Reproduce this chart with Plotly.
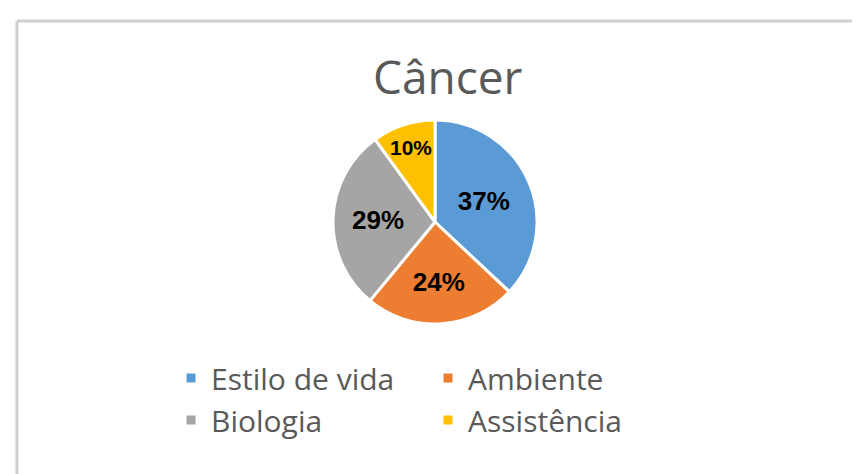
import plotly.graph_objects as go

categories = ["Estilo de vida", "Ambiente", "Biologia", "Assistência"]
values = [37, 24, 29, 10]
colors = ["#5B9BD5", "#ED7D31", "#A5A5A5", "#FFC000"]
title_text = "Câncer"

W, H = 860, 474
ML, MR = 150, 110
PW = W - ML - MR


def px_x(px):
    return (px - ML) / PW


def px_y(py):
    return 1 - py / H


fig = go.Figure(
    go.Pie(
        labels=categories,
        values=values,
        sort=False,
        direction="clockwise",
        rotation=0,
        marker=dict(colors=colors, line=dict(color="white", width=3)),
        texttemplate="%{percent:.0%}",
        textposition="inside",
        insidetextorientation="horizontal",
        textfont=dict(family="Liberation Sans", size=26, color="black", weight="bold"),
        domain=dict(x=[px_x(322), px_x(532)], y=[px_y(316), px_y(112)]),
        hoverinfo="label+percent",
    )
)

fig.update_layout(
    width=W,
    height=H,
    margin=dict(l=ML, r=MR, t=0, b=0),
    paper_bgcolor="white",
    plot_bgcolor="white",
    showlegend=True,
    legend=dict(
        orientation="h",
        x=px_x(163),
        xanchor="left",
        y=px_y(344),
        yanchor="top",
        entrywidth=212,
        font=dict(family="Open Sans", size=30, color="#595959"),
        bgcolor="rgba(0,0,0,0)",
    ),
    annotations=[
        dict(
            text=title_text,
            x=px_x(440),
            y=px_y(68),
            xref="paper",
            yref="paper",
            showarrow=False,
            xanchor="center",
            yanchor="middle",
            font=dict(family="Open Sans", size=46, color="#595959"),
        )
    ],
    shapes=[
        dict(type="line", xref="paper", yref="paper", x0=px_x(9), x1=px_x(860),
             y0=px_y(13), y1=px_y(13), line=dict(color="#D0D0D0", width=3)),
        dict(type="line", xref="paper", yref="paper", x0=px_x(9), x1=px_x(9),
             y0=px_y(13), y1=px_y(474), line=dict(color="#D0D0D0", width=3)),
    ],
)

fig.write_html("out.html")
